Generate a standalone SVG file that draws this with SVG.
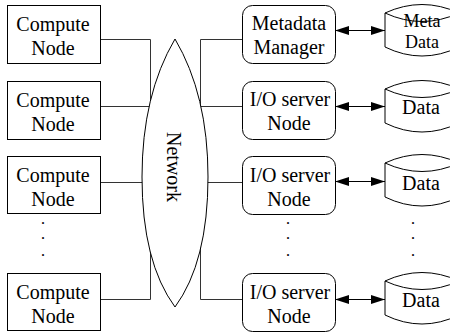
<svg xmlns="http://www.w3.org/2000/svg" width="450" height="332" viewBox="0 0 450 332">
<style>
text{font-family:"Liberation Serif","Times New Roman",serif;font-size:20px;fill:#000;text-anchor:middle}
text.dot{font-size:12px;font-weight:bold}
text.md{font-size:18px}
.box{fill:#fff;stroke:#000;stroke-width:1}
.conn{fill:none;stroke:#333;stroke-width:1}
.arr{fill:none;stroke:#000;stroke-width:1;marker-start:url(#ah);marker-end:url(#ah)}
</style>
<defs>
<marker id="ah" viewBox="0 0 14 9" refX="14" refY="4.5" markerWidth="14" markerHeight="9" markerUnits="userSpaceOnUse" orient="auto-start-reverse">
<path d="M0,0 L14,4.5 L0,9 Z" fill="#000"/>
</marker>
</defs>
<rect width="450" height="332" fill="#fff"/>
<g id="connectors">
<polyline class="conn" points="100,39.5 150.5,39.5 150.5,115"/>
<line class="conn" x1="100" y1="106.5" x2="160" y2="106.5"/>
<line class="conn" x1="100" y1="182.5" x2="160" y2="182.5"/>
<polyline class="conn" points="100,299.5 150.5,299.5 150.5,240"/>
<polyline class="conn" points="242,39.5 200.5,39.5 200.5,115"/>
<line class="conn" x1="190" y1="106.5" x2="242" y2="106.5"/>
<line class="conn" x1="190" y1="182.5" x2="242" y2="182.5"/>
<polyline class="conn" points="242,299.5 200.5,299.5 200.5,240"/>
<line class="arr" x1="335" y1="30.5" x2="385" y2="30.5"/>
<line class="arr" x1="335" y1="106.5" x2="385" y2="106.5"/>
<line class="arr" x1="335" y1="181.5" x2="385" y2="181.5"/>
<line class="arr" x1="335" y1="299.5" x2="385" y2="299.5"/>
</g>
<g id="compute1"><rect class="box" x="7.5" y="5.5" width="93" height="58"/><text x="53" y="31">Compute</text><text x="53" y="55">Node</text></g>
<g id="compute2"><rect class="box" x="7.5" y="81.5" width="93" height="58"/><text x="53" y="107">Compute</text><text x="53" y="131">Node</text></g>
<g id="compute3"><rect class="box" x="7.5" y="156.5" width="93" height="57"/><text x="53" y="182">Compute</text><text x="53" y="206">Node</text></g>
<g id="compute4"><rect class="box" x="7.5" y="273.5" width="93" height="57"/><text x="53" y="299">Compute</text><text x="53" y="323">Node</text></g>
<g id="dots-left"><text class="dot" x="43" y="224">.</text><text class="dot" x="43" y="239">.</text><text class="dot" x="43" y="256">.</text></g>
<g id="network"><path class="box" d="M175,39 Q142,95 142,177 Q142,262 175,307 Q208,262 208,177 Q208,95 175,39 Z"/><text transform="translate(167,167) rotate(90)">Network</text></g>
<g id="metadata-manager"><rect class="box" x="242.5" y="5.5" width="93" height="58" rx="10"/><text x="289" y="30">Metadata</text><text x="289" y="54">Manager</text></g>
<g id="io1"><rect class="box" x="242.5" y="81.5" width="93" height="58" rx="10"/><text x="290" y="106">I/O server</text><text x="289" y="130">Node</text></g>
<g id="io2"><rect class="box" x="242.5" y="156.5" width="93" height="58" rx="10"/><text x="290" y="182">I/O server</text><text x="289" y="206">Node</text></g>
<g id="io3"><rect class="box" x="242.5" y="273.5" width="93" height="58" rx="10"/><text x="290" y="299">I/O server</text><text x="289" y="323">Node</text></g>
<g id="dots-mid"><text class="dot" x="288" y="224">.</text><text class="dot" x="288" y="239">.</text><text class="dot" x="288" y="256">.</text></g>
<g id="metadata"><path class="box" d="M385,13 Q422,-4 459,13 L459,47 Q422,65 385,47 Z M385,13 Q422,30 459,13"/><text class="md" x="422" y="27">Meta</text><text class="md" x="422" y="48">Data</text></g>
<g id="data1"><path class="box" d="M385,89 Q422,72 459,89 L459,123 Q422,141 385,123 Z M385,89 Q422,106 459,89"/><text x="421" y="114">Data</text></g>
<g id="data2"><path class="box" d="M385,163 Q422,146 459,163 L459,197 Q422,215 385,197 Z M385,163 Q422,180 459,163"/><text x="421" y="190">Data</text></g>
<g id="data3"><path class="box" d="M385,281 Q422,264 459,281 L459,315 Q422,333 385,315 Z M385,281 Q422,298 459,281"/><text x="421" y="307">Data</text></g>
<g id="dots-right"><text class="dot" x="413" y="224">.</text><text class="dot" x="413" y="239">.</text><text class="dot" x="413" y="256">.</text></g>
</svg>
